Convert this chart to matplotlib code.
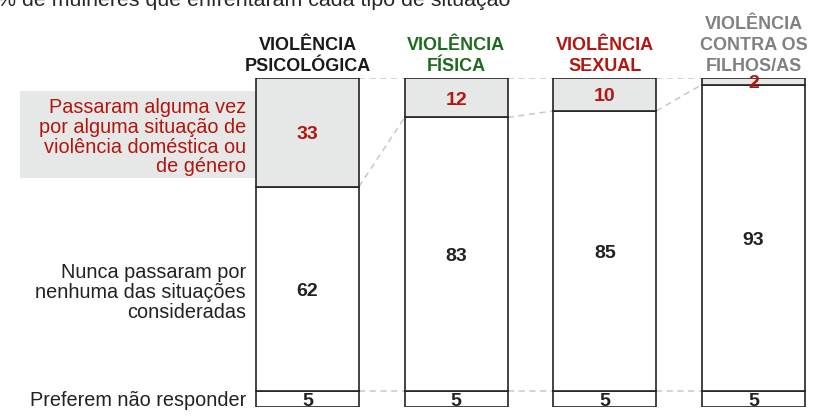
import matplotlib.pyplot as plt
from matplotlib.patches import Rectangle
import numpy as np

plt.rcParams['font.family'] = ['Liberation Sans', 'DejaVu Sans']

# data
tipos = ['VIOLÊNCIA\nPSICOLÓGICA', 'VIOLÊNCIA\nFÍSICA', 'VIOLÊNCIA\nSEXUAL',
         'VIOLÊNCIA\nCONTRA OS\nFILHOS/AS']
tipo_cores = ['#1a1a1a', '#1e6b1e', '#b3160f', '#808080']
passaram = [33, 12, 10, 2]
nunca = [62, 83, 85, 93]
nao_responde = [5, 5, 5, 5]
rotulos = ['Passaram alguma vez\npor alguma situação de\nviolência doméstica ou\nde género',
           'Nunca passaram por\nnenhuma das situações\nconsideradas',
           'Preferem não responder']
titulo = '% de mulheres que enfrentaram cada tipo de situação'

RED = '#b3160f'
DARK = '#222222'
GREY_FILL = '#e6e7e7'
DASH = '#c8c8c8'

fig = plt.figure(figsize=(8.21, 4.18), dpi=100)
ax = fig.add_axes([0, 11 / 418, 1, 329 / 418])

x = np.arange(len(tipos))
w = 0.693
passaram = np.array(passaram)
nunca = np.array(nunca)
nao_responde = np.array(nao_responde)

kw = dict(width=w, edgecolor=DARK, linewidth=1.2, zorder=3)
ax.bar(x, nao_responde, color='white', **kw)
ax.bar(x, nunca, bottom=nao_responde, color='white', **kw)
ax.bar(x, passaram, bottom=nao_responde + nunca, color=GREY_FILL, **kw)


def label(xv, yv, s, dy=-1.8, **kw):
    ax.annotate(s, xy=(xv, yv), xytext=(0, dy), textcoords='offset points',
                annotation_clip=False, **kw)


# values inside the segments
num = dict(ha='center', va='center', fontsize=14, fontweight='bold', zorder=5)
for i in x:
    label(i, nao_responde[i] / 2, str(nao_responde[i]), color=DARK, **num)
    label(i, nao_responde[i] + nunca[i] / 2, str(nunca[i]), color=DARK, **num)
    label(i, nao_responde[i] + nunca[i] + passaram[i] / 2, str(passaram[i]),
          color=RED, **num)

# dashed connectors between neighbouring bars
tops = nao_responde + nunca + passaram
splits = nao_responde + nunca
for i in range(len(x) - 1):
    for ys in (tops, splits, nao_responde):
        ax.plot([x[i] + w / 2, x[i + 1] - w / 2], [ys[i], ys[i + 1]],
                ls=(0, (4, 3)), color=DASH, lw=1.1, zorder=1)

# column headers
for i, (t, c) in enumerate(zip(tipos, tipo_cores)):
    label(x[i], tops[i], t, dy=2, ha='center', va='bottom', fontsize=13,
          fontweight='bold', color=c, linespacing=1.3)

# row labels on the left
lx = x[0] - w / 2 - 0.067
mid_pass = splits[0] + passaram[0] / 2
ax.add_patch(Rectangle((x[0] - w / 2 - 1.587, mid_pass - 13.8), 1.587, 26.2,
                       facecolor=GREY_FILL, edgecolor='none', zorder=0))
row = dict(ha='right', va='center', fontsize=14.3, linespacing=1.05)
label(lx, mid_pass, rotulos[0], dy=-3.5, color=RED, **row)
label(lx, nao_responde[0] + nunca[0] / 2, rotulos[1], dy=-3.0, color=DARK, **row)
label(lx, nao_responde[0] / 2, rotulos[2], dy=-1.5, color=DARK, **row)

fig.text(-0.004, 1 - 6 / 418, titulo, ha='left', va='baseline', fontsize=15.4,
         color='#262626')

ax.set_xlim(-307.5 / 148.67, (821 - 307.5) / 148.67)
ax.set_ylim(0, 100)
ax.axis('off')

fig.savefig('out.png', dpi=100)
